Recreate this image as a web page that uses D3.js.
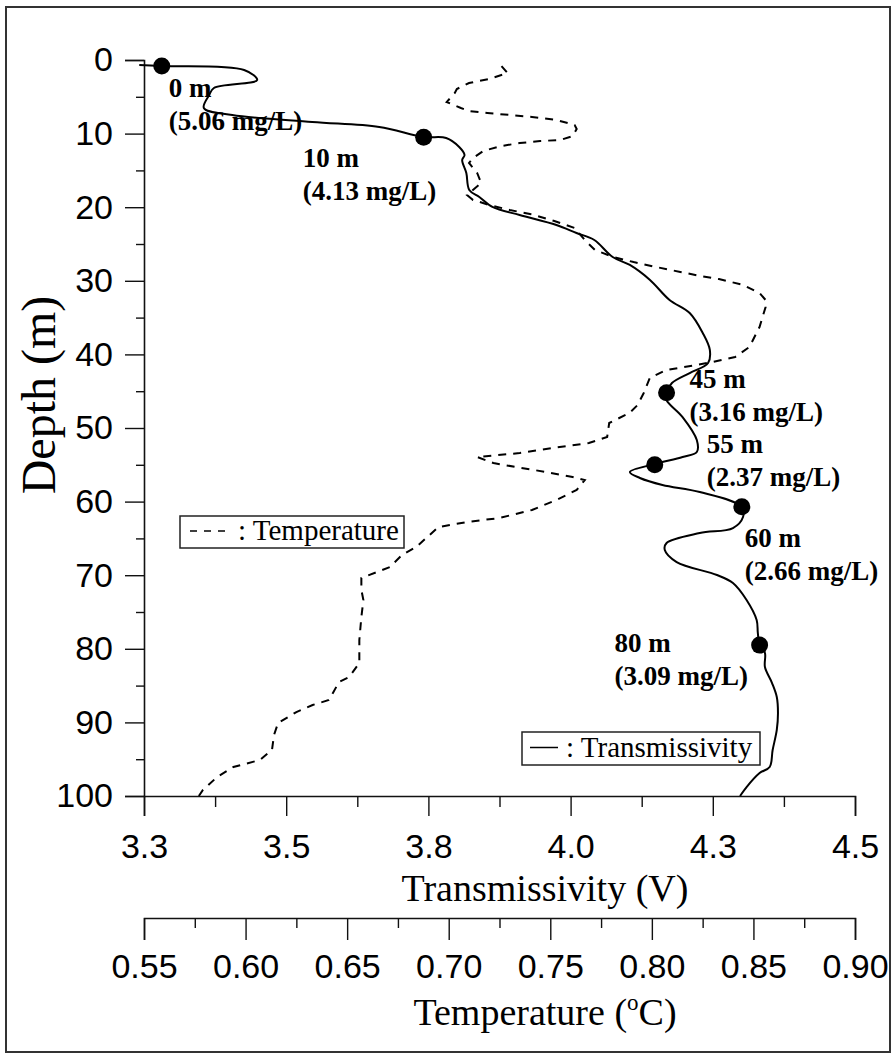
<!DOCTYPE html>
<html>
<head>
<meta charset="utf-8">
<script src="https://cdn.jsdelivr.net/npm/d3@7"></script>
<style>
  html, body { margin: 0; padding: 0; background: #fff; }
  svg { display: block; }
</style>
</head>
<body>
<svg id="chart" width="896" height="1058"></svg>
<script>
// ---------------- DATA ----------------
// Transmissivity profile (V) vs depth (m)
const transDepth = [0.68,0.82,1.36,2.72,3.80,4.76,6.52,7.47,8.42,9.10,10.46,10.60,11.82,12.91,13.59,15.35,17.66,18.61,19.97,21.06,22.42,23.51,24.46,26.77,27.85,29.89,32.61,34.38,37.09,39.40,41.17,42.53,43.89,45.24,46.20,48.51,51.63,53.26,53.94,54.89,55.98,56.79,57.74,58.70,60.73,62.09,63.59,64.27,65.62,66.58,68.21,69.97,71.06,73.37,76.09,77.85,79.48,80.57,82.47,84.65,86.55,88.72,91.03,93.75,96.06,96.88,98.78,100];
const transValues = [3.292,3.330,3.469,3.491,3.418,3.410,3.401,3.449,3.584,3.697,3.772,3.810,3.832,3.841,3.837,3.844,3.849,3.866,3.888,3.934,3.996,4.030,4.060,4.091,4.120,4.154,4.187,4.221,4.243,4.255,4.252,4.221,4.191,4.182,4.182,4.209,4.233,4.233,4.209,4.162,4.120,4.137,4.175,4.238,4.309,4.311,4.294,4.238,4.182,4.179,4.199,4.267,4.294,4.317,4.334,4.336,4.339,4.348,4.348,4.360,4.368,4.370,4.368,4.361,4.356,4.339,4.317,4.306];

// Temperature profile (°C) vs depth (m)
const tempDepth = [0.82,1.77,2.58,3.13,3.94,4.48,5.71,6.52,6.93,7.20,7.47,7.74,8.15,8.83,9.38,10.33,10.87,11.01,11.28,11.68,12.36,13.32,13.99,15.35,16.71,18.34,19.02,19.70,20.38,20.92,21.88,22.83,24.46,25.82,26.77,27.45,28.12,28.80,29.35,29.76,30.57,31.66,32.61,33.56,36.28,39.00,40.35,41.03,41.58,42.12,43.21,45.24,46.87,47.96,49.32,51.22,52.04,52.72,53.40,53.94,54.76,55.30,55.98,56.66,57.07,58.42,59.78,61.14,62.23,62.77,63.45,66.17,67.26,68.89,70.38,72.01,73.37,75.68,78.80,81.93,83.83,84.51,86.00,86.96,87.64,88.59,90.08,91.71,93.75,95.11,96.06,97.42,99.18,100];
const tempValues = [0.726,0.729,0.720,0.710,0.704,0.703,0.699,0.706,0.710,0.719,0.730,0.741,0.753,0.762,0.763,0.761,0.755,0.745,0.735,0.726,0.717,0.712,0.710,0.714,0.716,0.709,0.712,0.720,0.730,0.740,0.752,0.762,0.767,0.772,0.781,0.791,0.802,0.814,0.824,0.833,0.845,0.853,0.856,0.856,0.853,0.848,0.841,0.830,0.819,0.807,0.799,0.796,0.793,0.789,0.779,0.778,0.769,0.751,0.735,0.714,0.722,0.733,0.748,0.761,0.767,0.763,0.753,0.741,0.725,0.709,0.695,0.684,0.677,0.671,0.657,0.657,0.658,0.657,0.656,0.656,0.651,0.646,0.643,0.641,0.633,0.625,0.616,0.614,0.613,0.607,0.594,0.586,0.579,0.577];

// Sampling points
const sampleDepths = [0.8, 10.5, 45.2, 55.0, 60.7, 79.5];
const sampleTrans  = [3.330, 3.772, 4.182, 4.162, 4.309, 4.339];
const sampleNames  = ["0 m", "10 m", "45 m", "55 m", "60 m", "80 m"];
const sampleConc   = ["(5.06 mg/L)", "(4.13 mg/L)", "(3.16 mg/L)", "(2.37 mg/L)", "(2.66 mg/L)", "(3.09 mg/L)"];

// Axes ticks
const depthTicks = [0,10,20,30,40,50,60,70,80,90,100];
const depthMinor = [5,15,25,35,45,55,65,75,85,95];
const transTicks = [3.30,3.54,3.78,4.02,4.26,4.50];
const transMinor = [3.42,3.66,3.90,4.14,4.38];
const tempTicks  = [0.55,0.60,0.65,0.70,0.75,0.80,0.85,0.90];
const tempMinor  = [0.575,0.625,0.675,0.725,0.775,0.825,0.875];

// Layout (pixel offsets of annotation labels relative to their dots)
const labelOffsets = [[7,31],[-121,30],[23,-5],[52,-12],[3,40],[-145,7]];

// ---------------- DRAW ----------------
const svg = d3.select("#chart");
const L = 144, R = 855, T = 60, B = 796;
const sans = "'Liberation Sans', Arial, sans-serif";
const serif = "'Liberation Serif', 'Times New Roman', serif";

const x  = d3.scaleLinear().domain([3.3, 4.5]).range([L, R]);
const xT = d3.scaleLinear().domain([0.55, 0.90]).range([L, R]);
const y  = d3.scaleLinear().domain([0, 100]).range([T, B]);

// outer frame
svg.append("rect").attr("x", 6).attr("y", 7).attr("width", 884).attr("height", 1045)
  .attr("fill", "none").attr("stroke", "#333").attr("stroke-width", 2);

function styleAxis(g, fs) {
  g.selectAll("path.domain").attr("stroke", "#111").attr("stroke-width", 1.6);
  g.selectAll(".tick line").attr("stroke", "#111").attr("stroke-width", 1.4);
  g.selectAll(".tick text").attr("fill", "#000").style("font-family", sans).style("font-size", fs + "px");
}

const TF = 34; // tick label font size

// Y axis
const yAx = svg.append("g").attr("transform", `translate(${L},0)`)
  .call(d3.axisLeft(y).tickValues(depthTicks).tickFormat(d3.format("d")).tickSize(19).tickPadding(12));
styleAxis(yAx, TF);
const yMin = svg.append("g").attr("transform", `translate(${L},0)`)
  .call(d3.axisLeft(y).tickValues(depthMinor).tickFormat("").tickSize(8));
yMin.select("path.domain").remove();
styleAxis(yMin, TF);

// X axis (transmissivity)
const xAx = svg.append("g").attr("transform", `translate(0,${B})`)
  .call(d3.axisBottom(x).tickValues(transTicks).tickFormat(d3.format(".1f")).tickSize(20).tickPadding(18));
styleAxis(xAx, TF);
const xMin = svg.append("g").attr("transform", `translate(0,${B})`)
  .call(d3.axisBottom(x).tickValues(transMinor).tickFormat("").tickSize(11));
xMin.select("path.domain").remove();
styleAxis(xMin, TF);

// Temperature axis
const TA = 918;
const tAx = svg.append("g").attr("transform", `translate(0,${TA})`)
  .call(d3.axisBottom(xT).tickValues(tempTicks).tickFormat(d3.format(".2f")).tickSize(22).tickPadding(14));
styleAxis(tAx, TF);
const tMin = svg.append("g").attr("transform", `translate(0,${TA})`)
  .call(d3.axisBottom(xT).tickValues(tempMinor).tickFormat("").tickSize(10));
tMin.select("path.domain").remove();
styleAxis(tMin, TF);

// Axis titles
svg.append("text").attr("transform", "translate(55,395) rotate(-90)")
  .attr("text-anchor", "middle").style("font-family", serif).style("font-size", "48px")
  .text("Depth (m)");
svg.append("text").attr("x", 545).attr("y", 901).attr("text-anchor", "middle")
  .style("font-family", serif).style("font-size", "38px").text("Transmissivity (V)");
const tt = svg.append("text").attr("x", 545).attr("y", 1025).attr("text-anchor", "middle")
  .style("font-family", serif).style("font-size", "38px");
tt.append("tspan").text("Temperature (");
tt.append("tspan").attr("dy", -15).style("font-size", "23px").text("o");
tt.append("tspan").attr("dy", 15).text("C)");

// Lines
const transLine = d3.line().x(d => x(d[1])).y(d => y(d[0])).curve(d3.curveCatmullRom.alpha(0.5));
svg.append("path").datum(d3.zip(transDepth, transValues))
  .attr("d", transLine).attr("fill", "none").attr("stroke", "#000").attr("stroke-width", 2)
  .attr("stroke-linejoin", "round");
const tempLine = d3.line().x(d => xT(d[1])).y(d => y(d[0]));
svg.append("path").datum(d3.zip(tempDepth, tempValues))
  .attr("d", tempLine).attr("fill", "none").attr("stroke", "#000").attr("stroke-width", 2)
  .attr("stroke-dasharray", "8,7");

// Sample dots and labels
sampleDepths.forEach((d, i) => {
  const cx = x(sampleTrans[i]), cy = y(d);
  svg.append("circle").attr("cx", cx).attr("cy", cy).attr("r", 8.5).attr("fill", "#000");
  const [dx, dy] = labelOffsets[i];
  svg.append("text").attr("x", cx + dx).attr("y", cy + dy)
    .style("font-family", serif).style("font-weight", "bold").style("font-size", "27px")
    .text(sampleNames[i]);
  svg.append("text").attr("x", cx + dx).attr("y", cy + dy + 33)
    .style("font-family", serif).style("font-weight", "bold").style("font-size", "27px")
    .text(sampleConc[i]);
});

// Legends
function legend(bx, by, bw, bh, dashed, label, lx1, lx2, tx) {
  const g = svg.append("g");
  g.append("rect").attr("x", bx).attr("y", by).attr("width", bw).attr("height", bh)
    .attr("fill", "#fff").attr("stroke", "#222").attr("stroke-width", 1.5);
  g.append("line").attr("x1", bx + lx1).attr("x2", bx + lx2).attr("y1", by + bh / 2 - 1).attr("y2", by + bh / 2 - 1)
    .attr("stroke", "#000").attr("stroke-width", 1.5)
    .attr("stroke-dasharray", dashed ? "7,7" : null);
  g.append("text").attr("x", bx + tx).attr("y", by + bh - 8)
    .style("font-family", serif).style("font-size", "29px").text(": " + label);
}
legend(180, 516, 224, 32, true, "Temperature", 10, 47, 58);
legend(522, 732, 238, 33, false, "Transmissivity", 8, 36, 44);
</script>
</body>
</html>
